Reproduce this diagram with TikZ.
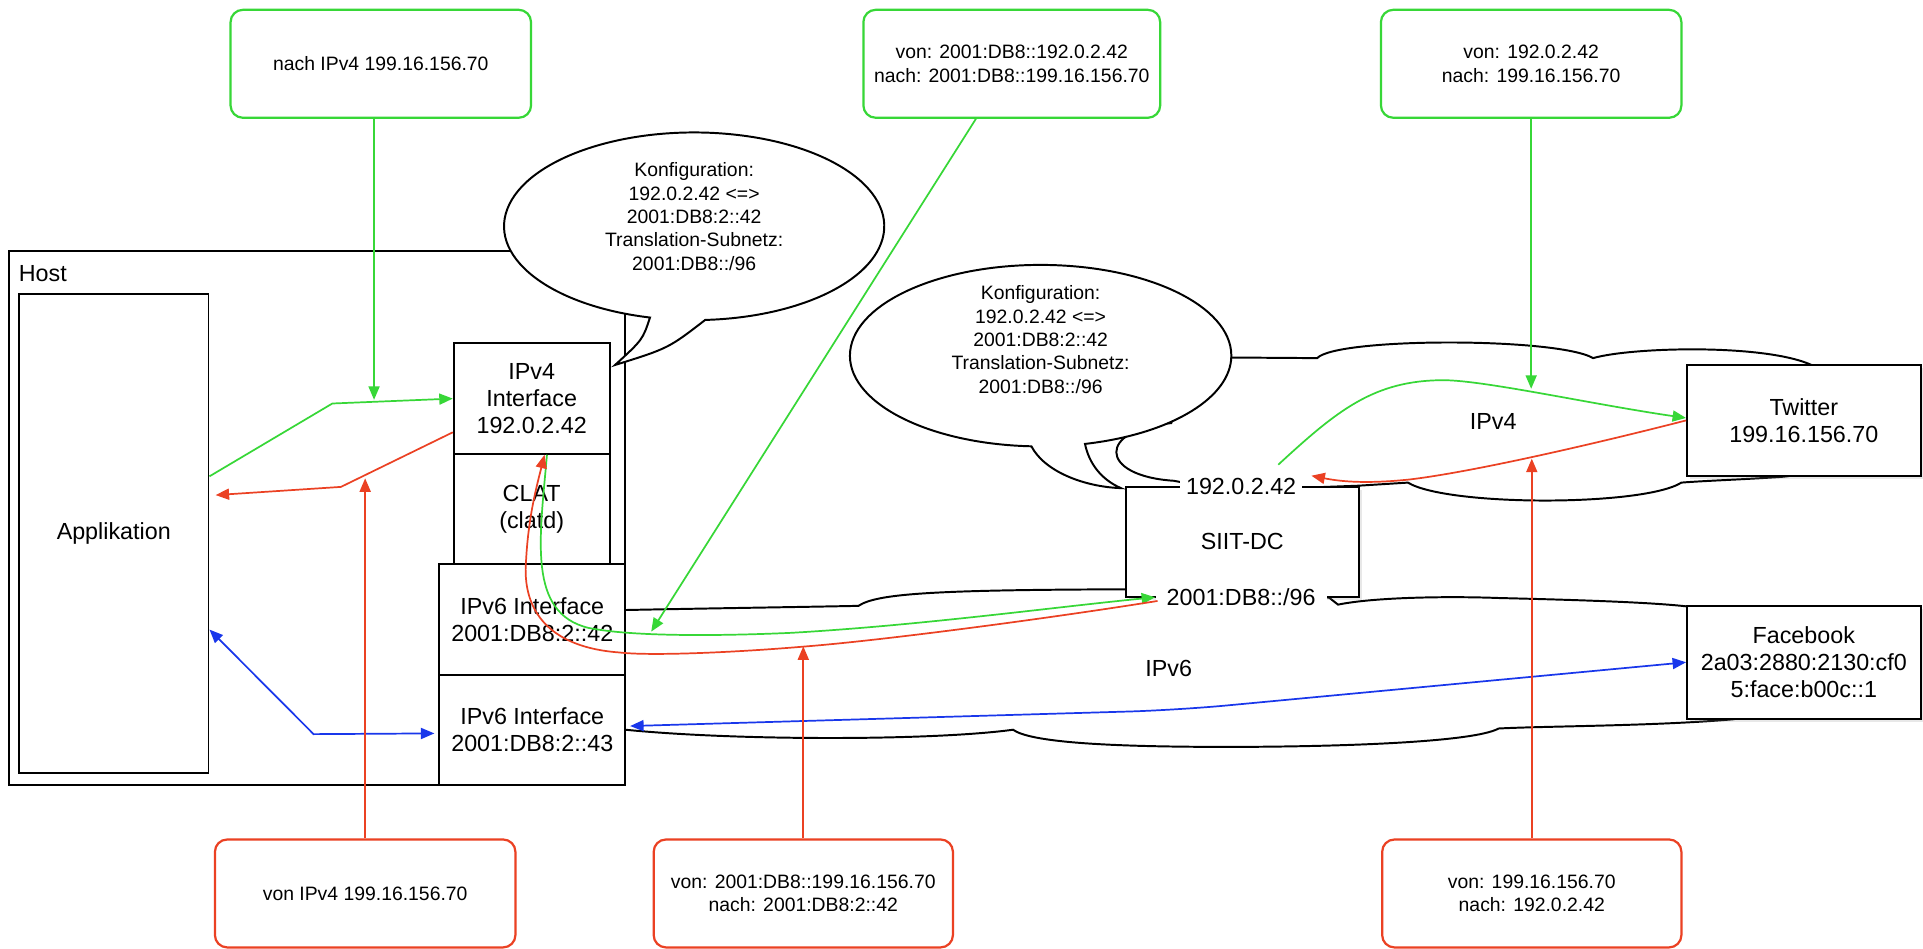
\documentclass[tikz,border=0pt]{standalone}
\usepackage{fontspec}
\setmainfont{Liberation Sans}
\usetikzlibrary{arrows.meta,calc,shadows}
\definecolor{flowgreen}{RGB}{55,215,55}
\definecolor{flowred}{RGB}{235,65,35}
\definecolor{flowblue}{RGB}{25,55,235}
\newcommand\FontBig{\fontsize{9.5pt}{11pt}\selectfont}
\newcommand\FontSmall{\fontsize{7.9pt}{9.5pt}\selectfont}
\tikzset{
  box/.style={draw=black,line width=0.8pt,fill=white,inner sep=0pt,align=center,font=\FontBig},
  shadowbox/.style={box,drop shadow={shadow xshift=1.2pt,shadow yshift=-1.2pt,opacity=0.18}},
  note/.style={rounded corners=5pt,line width=0.9pt,fill=white,inner sep=0pt,align=center,
    font=\FontSmall,minimum width=122.5pt,minimum height=44pt},
  gnote/.style={note,draw=flowgreen},
  rnote/.style={note,draw=flowred},
  cloudline/.style={draw=black,line width=0.8pt,fill=white},
  tipend/.style={-{Triangle[length=5.5pt,width=4.5pt]}},
  tipboth/.style={{Triangle[length=5.5pt,width=4.5pt]}-{Triangle[length=5.5pt,width=4.5pt]}},
  gflow/.style={draw=flowgreen,fill=none,line width=0.7pt,tipend,flowgreen},
  rflow/.style={draw=flowred,fill=none,line width=0.7pt,tipend,flowred},
  bflow/.style={draw=flowblue,fill=none,line width=0.7pt,tipboth,flowblue},
  edgelabel/.style={fill=white,inner ysep=1pt,font=\FontBig},
}
\begin{document}
\begin{tikzpicture}[x=0.5pt,y=-0.5pt]
\useasboundingbox (0,0) rectangle (1568,773);
\fill[white] (0,0) rectangle (1568,773);

% host frame
\node[box,minimum width=251.5pt,minimum height=217.5pt] (host) at (258.5,422.5) {};
\node[font=\FontBig,anchor=west,inner sep=0pt] (hostlabel) at (15,223) {Host};

% IPv6 network cloud
\path[cloudline] (470,497) -- (509.5,497.4)
  .. controls (580,496) and (650,495) .. (700,494)
  .. controls (715,484) and (760,481) .. (918,480.5)
  -- (1000,481) .. controls (1040,482) and (1070,484) .. (1084,487.5)
  -- (1091,493)
  .. controls (1120,487) and (1180,486) .. (1222,487.6)
  .. controls (1280,489) and (1350,491) .. (1380,495)
  .. controls (1430,505) and (1460,580) .. (1413,586.5)
  .. controls (1350,592) and (1260,592) .. (1222,594)
  .. controls (1200,606) and (1080,609) .. (1000,609)
  .. controls (900,609) and (840,605) .. (826,595)
  .. controls (760,604) and (600,604) .. (510,595)
  -- (470,595) -- cycle;

% IPv4 network cloud
\path[cloudline] (985,300) -- (1003,291.5) -- (1074,292)
  .. controls (1090,275) and (1270,275) .. (1299,292)
  .. controls (1330,283) and (1440,280) .. (1478,298)
  .. controls (1530,320) and (1520,385) .. (1450,389)
  .. controls (1420,391) and (1390,392) .. (1371,393.5)
  .. controls (1340,413) and (1180,413) .. (1148,393.5)
  -- (1108,396) -- (1000,400) -- (957,392)
  .. controls (895,388) and (895,350) .. (955,345)
  -- (960,330) -- cycle;

\node[font=\FontBig] (net4) at (1217.6,343.8) {IPv4};
\node[font=\FontBig] (net6) at (953,545) {IPv6};

% host contents
\node[box,minimum width=77.25pt,minimum height=195pt] (app) at (92.75,435) {Applikation};
\node[box,minimum width=63.5pt,minimum height=45pt] (v4if) at (433.5,325) {IPv4\\Interface\\192.0.2.42};
\node[box,minimum width=63.5pt,minimum height=45pt] (clat) at (433.5,415) {CLAT\\(clatd)};
\node[box,minimum width=76pt,minimum height=45pt] (v6a) at (434,505) {IPv6 Interface\\2001:DB8:2::42};
\node[box,minimum width=76pt,minimum height=45pt] (v6b) at (434,595) {IPv6 Interface\\2001:DB8:2::43};

% configuration callouts
\path[cloudline] (530,258.9) arc[start angle=103.43,end angle=446.67,x radius=155,y radius=76.5]
  .. controls (545,284) .. (501.5,297.6)
  .. controls (524,277) .. cycle;
\node[font=\FontSmall,align=center] (cfg1) at (566,176.5)
  {Konfiguration:\\192.0.2.42 <=>\\2001:DB8:2::42\\Translation-Subnetz:\\2001:DB8::/96};

\path[cloudline] (841,363.9) arc[start angle=92.77,end angle=436.54,x radius=155.5,y radius=74]
  .. controls (888,378) and (898,391) .. (914,398)
  .. controls (885,397) and (852,385) .. cycle;
\node[font=\FontSmall,align=center] (cfg2) at (848.5,276.8)
  {Konfiguration:\\192.0.2.42 <=>\\2001:DB8:2::42\\Translation-Subnetz:\\2001:DB8::/96};

% translator and servers
\node[shadowbox,minimum width=95pt,minimum height=44.75pt] (siit) at (1013,441.75) {SIIT-DC};
\node[edgelabel,inner xsep=2.5pt] (siit4) at (1012,397) {192.0.2.42};
\node[edgelabel,inner xsep=4.5pt] (siit6) at (1012,487) {2001:DB8::/96};
\node[shadowbox,minimum width=95.2pt,minimum height=45.2pt] (tw) at (1470.8,342.8) {Twitter\\199.16.156.70};
\node[shadowbox,minimum width=95.2pt,minimum height=46pt] (fb) at (1470.8,540) {Facebook\\2a03:2880:2130:cf0\\5:face:b00c::1};

% packet notes
\node[gnote] (g1) at (310.5,52) {nach IPv4 199.16.156.70};
\node[gnote,minimum width=121pt] (g2) at (825,52) {von: 2001:DB8::192.0.2.42\\nach: 2001:DB8::199.16.156.70};
\node[gnote] (g3) at (1248.5,52) {von: 192.0.2.42\\nach: 199.16.156.70};
\node[rnote] (r1) at (297.75,728.5) {von IPv4 199.16.156.70};
\node[rnote,minimum width=122pt] (r2) at (655,728.5) {von: 2001:DB8::199.16.156.70\\nach: 2001:DB8:2::42};
\node[rnote,minimum width=122pt] (r3) at (1249,728.5) {von: 199.16.156.70\\nach: 192.0.2.42};

% points where the notes meet the flows
\coordinate (g1hit) at (305,326);
\coordinate (g2hit) at (531,515);
\coordinate (g3hit) at (1248.5,317);
\coordinate (r1hit) at (297.75,390);
\coordinate (r2hit) at (655,527);
\coordinate (r3hit) at (1249,374);

% outgoing IPv4 packet (green)
\draw[gflow] ($(app.north east)!0.381!(app.south east)$) -- (271,329) -- (v4if.west);
\draw[gflow] ($(v4if.south)+(12.5,0)$)
  .. controls (440,440) and (430,500) .. (480,512)
  .. controls (520,520) and (600,518) .. (645,516)
  .. controls (750,510) and (860,495) .. (siit6.west);
\draw[gflow] ($(siit4.north east)+(-20,-9)$)
  .. controls (1090,335) and (1120,310) .. (1177,310)
  .. controls (1210,310) and (1300,330) .. ($(tw.west)+(0,-2)$);

% returning packet (red)
\draw[rflow] (tw.west)
  .. controls (1300,362) and (1200,385) .. (1149,391)
  .. controls (1110,395) and (1090,392) .. ($(siit4.north east)+(7,0)$);
\draw[rflow] ($(siit6.west)+(2,3)$)
  .. controls (850,505) and (720,522) .. (658,527)
  .. controls (600,532) and (530,535) .. (505,532)
  .. controls (450,528) and (425,500) .. (429,456)
  .. controls (431,420) and (438,395) .. ($(v4if.south)+(10.5,0)$);
\draw[rflow] ($(v4if.north west)!0.8!(v4if.south west)$) -- (278,397)
  -- ($(app.north east)!0.42!(app.south east)+(5,0)$);

% native IPv6 traffic (blue)
\draw[bflow] ($(app.north east)!0.7!(app.south east)$) -- (255.7,598.6) -- ($(v6b.west)+(-3,3)$);
\draw[bflow,rounded corners=20pt] ($(v6b.east)+(3,-3)$) -- (960,579) -- (fb.west);

% note pointers
\draw[gflow] (g1.south -| g1hit) -- (g1hit);
\draw[gflow] ($(g2.south west)!0.38!(g2.south east)$) -- (g2hit);
\draw[gflow] (g3.south) -- (g3hit);
\draw[rflow] (r1.north) -- (r1hit);
\draw[rflow] (r2.north) -- (r2hit);
\draw[rflow] (r3.north) -- (r3hit);
\end{tikzpicture}
\end{document}
